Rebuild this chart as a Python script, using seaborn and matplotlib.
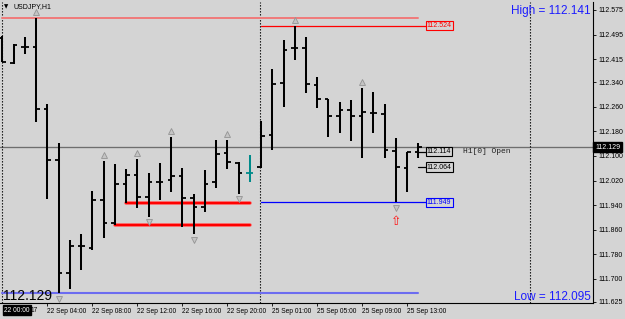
import numpy as np
import matplotlib
matplotlib.use("Agg")
import matplotlib.pyplot as plt
import matplotlib.transforms as mtransforms
import seaborn as sns

# ---------------- data (USDJPY H1, bars indexed from 22 Sep 00:00) ----------------
opens = [112.485, 112.402, 112.455, 112.455, 112.253, 112.086, 111.718, 111.806, 111.800, 111.956,
         111.881, 112.008, 112.038, 111.966, 112.015, 112.021, 112.034, 111.963, 111.933, 112.015,
         112.109, 112.077, 112.044, 112.064, 112.168, 112.337, 112.451, 112.451, 112.331, 112.285,
         112.230, 112.249, 112.230, 112.240, 112.236, 112.116, 112.060, 112.114]
highs = [112.490, 112.464, 112.487, 112.550, 112.269, 112.142, 111.826, 111.845, 111.985, 112.083,
         112.073, 112.057, 112.090, 112.044, 112.077, 112.161, 112.060, 111.976, 112.054, 112.152,
         112.152, 112.080, 112.103, 112.213, 112.383, 112.477, 112.524, 112.487, 112.357, 112.285,
         112.275, 112.282, 112.321, 112.308, 112.269, 112.158, 112.113, 112.142]
lows = [112.405, 112.399, 112.432, 112.210, 111.960, 111.653, 111.666, 111.728, 111.793, 111.832,
        111.877, 111.946, 111.930, 111.901, 111.956, 111.982, 111.868, 111.845, 111.917, 111.995,
        112.057, 111.976, 112.015, 112.060, 112.119, 112.259, 112.412, 112.305, 112.256, 112.161,
        112.174, 112.148, 112.093, 112.174, 112.093, 111.949, 111.982, 112.093]
closes = [112.405, 112.461, 112.455, 112.253, 112.086, 111.718, 111.806, 111.806, 111.956, 111.881,
          112.008, 112.038, 111.966, 112.015, 112.015, 112.034, 111.963, 111.933, 112.008, 112.106,
          112.080, 112.044, 112.044, 112.165, 112.334, 112.445, 112.451, 112.334, 112.285, 112.230,
          112.249, 112.230, 112.243, 112.240, 112.119, 112.064, 112.113, 112.129]
highlight_bar = 22          # bar drawn in teal

fractal_up = [3, 9, 12, 15, 20, 26, 32]
fractal_down = [5, 13, 17, 21, 35]
signal_bar = 35

separators = [0, 23, 47]

xtick_pos = [4, 8, 12, 16, 20, 24, 28, 32, 36]
xtick_labels = ["22 Sep 04:00", "22 Sep 08:00", "22 Sep 12:00", "22 Sep 16:00", "22 Sep 20:00",
                "25 Sep 01:00", "25 Sep 05:00", "25 Sep 09:00", "25 Sep 13:00"]
ytick_vals = [112.575, 112.495, 112.415, 112.340, 112.260, 112.180, 112.100, 112.020,
              111.940, 111.860, 111.780, 111.700, 111.625]

current_price = 112.129
range_high = 112.550
range_low = 111.653
day_high = 112.524
day_low = 111.949
prev_close = 112.064
bar_open = 112.114
support_levels = [111.946, 111.877]
support_starts = [11, 10]
support_end = 22

high_text = "High = 112.141"
low_text = "Low = 112.095"

# ---------------- style ----------------
BG = '#d4d4d4'
sns.set_style('ticks', rc={'axes.facecolor': BG, 'figure.facecolor': BG})
plt.rcParams['font.family'] = ['Liberation Sans', 'DejaVu Sans']
plt.rcParams['text.color'] = 'black'

W, H = 625, 319
fig = plt.figure(figsize=(W / 100, H / 100), dpi=100)
fig.patch.set_facecolor(BG)
ax = fig.add_axes([0, 16 / H, 593 / W, 301 / H])
ax.set_facecolor(BG)

n = len(opens)
idx = np.arange(n)
ax.set_xlim(-0.222, 52.53)
ax.set_ylim(111.6217, 112.601)

# horizontal reference lines
ax.axhline(current_price, color='#6e6e6e', lw=0.95, zorder=1)
sns.lineplot(x=[0, n - 1], y=[range_high, range_high], color='#f07a7a', lw=1.4, ax=ax, legend=False, zorder=2)
sns.lineplot(x=[0, n - 1], y=[range_low, range_low], color='#6c6cf0', lw=1.5, ax=ax, legend=False, zorder=2)
sns.lineplot(x=[23, n - 0.3], y=[day_high, day_high], color='#ff0000', lw=0.9, ax=ax, legend=False, zorder=2)
sns.lineplot(x=[23, n - 0.3], y=[day_low, day_low], color='#0000ff', lw=0.9, ax=ax, legend=False, zorder=2)
sns.lineplot(x=[n - 1, n - 0.3], y=[prev_close, prev_close], color='black', lw=0.9, ax=ax, legend=False, zorder=2)
sns.lineplot(x=[n - 1, n - 0.3], y=[bar_open, bar_open], color='black', lw=0.9, ax=ax, legend=False, zorder=2)
for lvl, st in zip(support_levels, support_starts):
    sns.lineplot(x=[st, support_end], y=[lvl, lvl], color='#ff6060', lw=2.6, ax=ax, legend=False, zorder=2)
    sns.lineplot(x=[st, support_end], y=[lvl, lvl], color='#ff0000', lw=1.5, ax=ax, legend=False, zorder=2)

# period separators
for s in separators:
    ax.axvline(s - 0.05, color='black', lw=0.8, ls=(0, (1.2, 1.5)), zorder=1)

# OHLC bars
colors = ['#008a8a' if i == highlight_bar else 'black' for i in idx]
ax.vlines(idx, lows, highs, colors=colors, lw=1.45, zorder=3)
ax.hlines(opens, idx - 0.32, idx, colors=colors, lw=1.3, zorder=3)
ax.hlines(closes, idx, idx + 0.32, colors=colors, lw=1.3, zorder=3)

# fractal arrows
up_tr = mtransforms.offset_copy(ax.transData, fig=fig, x=0, y=4.2, units='points')
dn_tr = mtransforms.offset_copy(ax.transData, fig=fig, x=0, y=-3.8, units='points')
ax.plot(fractal_up, [highs[i] for i in fractal_up], ls='none', marker='^', ms=4.3,
        mfc='#c4c4c4', mec='#949494', mew=0.6, transform=up_tr, zorder=4)
ax.plot(fractal_down, [lows[i] for i in fractal_down], ls='none', marker='v', ms=4.3,
        mfc='#c4c4c4', mec='#949494', mew=0.6, transform=dn_tr, zorder=4)
sig_tr = mtransforms.offset_copy(ax.transData, fig=fig, x=0, y=-14, units='points')
ax.text(signal_bar, lows[signal_bar], '\u21e7', color='#ff1010', fontsize=9, ha='center', va='center',
        family=['DejaVu Sans'], transform=sig_tr, zorder=4)

# price label boxes
lab_x = n - 0.25
def price_box(y, color):
    ax.text(lab_x, y, f"{y:.3f}", fontsize=5, color=color, ha='left', va='center', zorder=5,
            bbox=dict(boxstyle='square,pad=0.18', fc=BG, ec=color, lw=0.8))
price_box(day_high, '#ff0000')
price_box(bar_open, 'black')
price_box(prev_close, 'black')
price_box(day_low, '#0000ff')
ax.text(41.0, bar_open, "H1[0] Open", fontsize=5.8, family=['Liberation Mono', 'DejaVu Sans Mono'],
        ha='left', va='center', color='#202020')

# axes styling
ax.yaxis.tick_right()
ax.set_yticks(ytick_vals)
ax.set_yticklabels([f"{v:.3f}" for v in ytick_vals])
ax.set_xticks(xtick_pos)
ax.set_xticklabels(xtick_labels)
for lbl in ax.get_xticklabels():
    lbl.set_ha('left')
ax.tick_params(axis='y', which='both', right=True, left=False, direction='out', length=2.3,
               width=0.6, pad=1.5, labelsize=5, colors='black')
ax.tick_params(axis='x', bottom=True, direction='out', length=2.3, width=0.6, pad=1.2,
               labelsize=4.8, colors='black')
ax.spines['left'].set_visible(False)
ax.spines['top'].set_visible(False)
ax.spines['right'].set_color('black')
ax.spines['bottom'].set_color('black')
ax.spines['right'].set_linewidth(0.8)
ax.spines['bottom'].set_linewidth(0.8)
ax.set_xlabel('')
ax.set_ylabel('')

# current price tag on the price scale
ax.text(1.0 + 2 / 593, current_price, f"{current_price:.3f}",
        transform=mtransforms.blended_transform_factory(ax.transAxes, ax.transData),
        fontsize=5, color='white', ha='left', va='center', zorder=6,
        bbox=dict(boxstyle='square,pad=0.25', fc='black', ec='black'))

# overlay texts
fig.text(591 / W, 1 - 11 / H, high_text, ha='right', va='center', color='#1c1cff', fontsize=8.5)
fig.text(591 / W, 1 - 297 / H, low_text, ha='right', va='center', color='#1c1cff', fontsize=8.5)
fig.text(3 / W, 1 - 295.5 / H, f"{current_price:.3f}", ha='left', va='center', color='black', fontsize=10)
fig.text(4 / W, 1 - 7 / H, "\u25bc", ha='left', va='center', color='black', fontsize=4, family=['DejaVu Sans'])
fig.text(13 / W, 1 - 7 / H, "USDJPY,H1", ha='left', va='center', color='black', fontsize=5)
fig.text(4 / W, 1 - 310 / H, "22 00:00", ha='left', va='center', color='white', fontsize=4.8,
         bbox=dict(boxstyle='square,pad=0.2', fc='black', ec='black'))
fig.text(31 / W, 1 - 310 / H, "17", ha='left', va='center', color='black', fontsize=4.8)

fig.savefig('out.png', dpi=100, facecolor=BG)
